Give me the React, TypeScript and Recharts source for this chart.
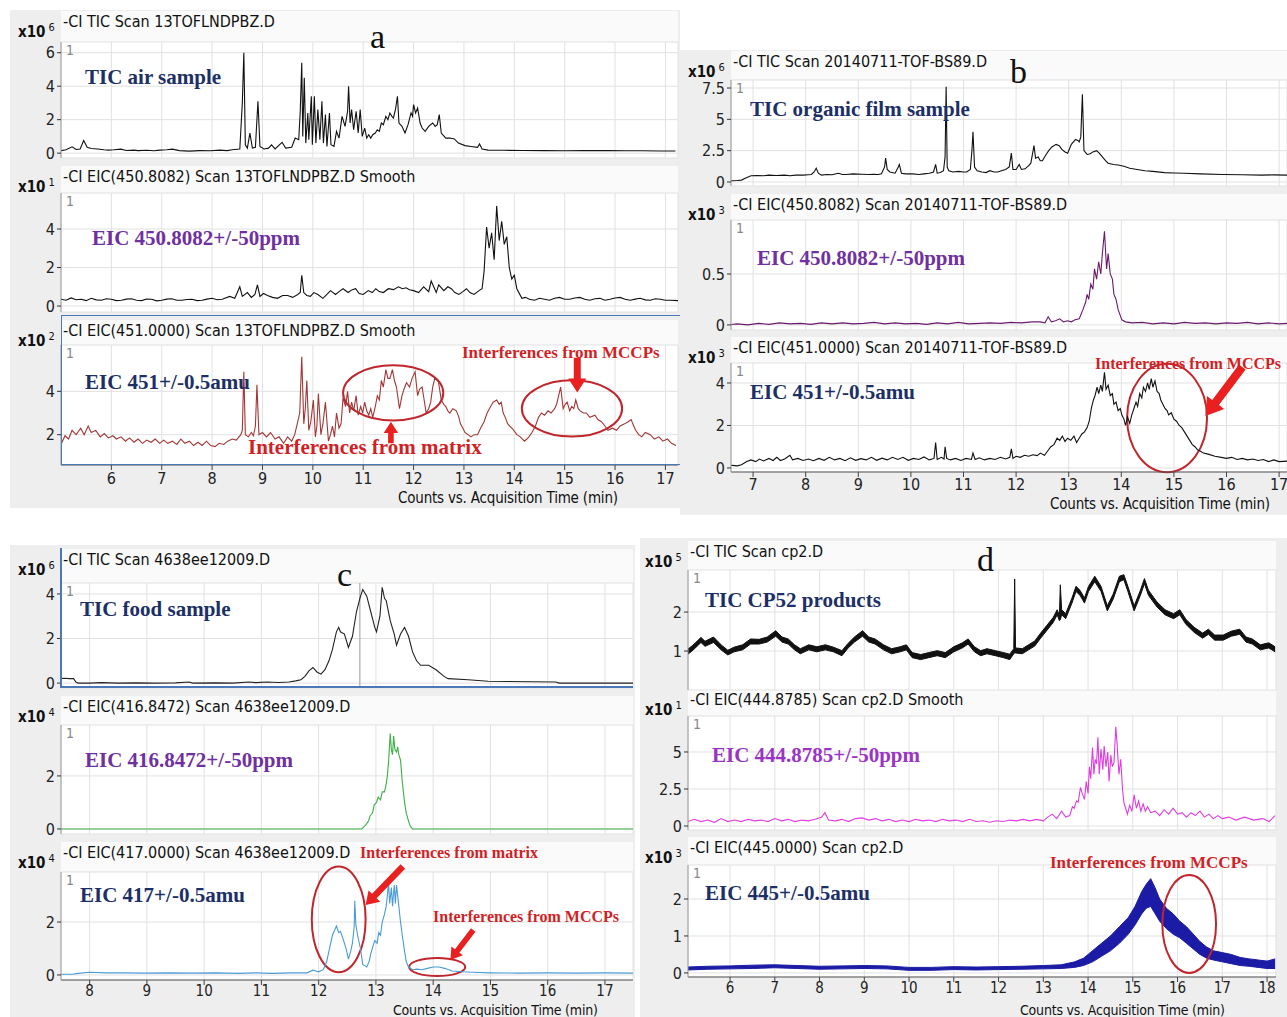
import React from 'react'
import {
    ComposedChart,
    Line,
    Area,
    XAxis,
    YAxis,
    CartesianGrid,
    ReferenceArea,
    ReferenceLine,
} from 'recharts'

const NARROW = "'Liberation Sans Narrow', 'Arial Narrow', 'DejaVu Sans Condensed', sans-serif"
const SERIF = "'Liberation Serif', 'Times New Roman', serif"
const NAVY = '#1c2f66'
const PURPLE = '#7030a0'
const RED = '#ea1f1f'
const RED_TEXT = '#d21f26'
const RING = '#c0262c'

// x ticks (min) for each panel
const A_TICKS = [6, 7, 8, 9, 10, 11, 12, 13, 14, 15, 16, 17]
const B_TICKS = [7, 8, 9, 10, 11, 12, 13, 14, 15, 16, 17]
const C_TICKS = [8, 9, 10, 11, 12, 13, 14, 15, 16, 17]
const D_TICKS = [6, 7, 8, 9, 10, 11, 12, 13, 14, 15, 16, 17, 18]

// panel a - air sample  [time, counts]
const A_TIC = [
    [5.0, 0.15], [5.1, 0.2], [5.22, 0.38], [5.3, 0.22], [5.38, 0.25], [5.45, 0.75], [5.52, 0.35], [5.6, 0.28],
    [5.73, 0.25], [5.85, 0.2], [5.94, 0.18], [6.05, 0.2], [6.19, 0.24], [6.3, 0.16], [6.45, 0.18], [6.53, 0.15],
    [6.7, 0.17], [6.85, 0.14], [6.96, 0.18], [7.1, 0.2], [7.21, 0.24], [7.35, 0.15], [7.55, 0.12], [7.75, 0.15],
    [7.97, 0.14], [8.15, 0.18], [8.3, 0.15], [8.4, 0.2], [8.55, 0.25], [8.6, 3.0], [8.63, 6.0], [8.66, 0.5],
    [8.7, 0.3], [8.75, 1.2], [8.8, 0.3], [8.86, 0.35], [8.91, 3.1], [8.95, 0.4], [9.03, 0.25], [9.12, 0.3],
    [9.18, 0.5], [9.25, 0.25], [9.39, 0.65], [9.46, 0.3], [9.58, 0.35], [9.65, 0.9], [9.72, 0.8], [9.75, 2.5],
    [9.78, 5.4], [9.8, 1.0], [9.83, 4.5], [9.86, 0.6], [9.9, 2.4], [9.92, 0.8], [9.97, 3.4], [9.99, 0.5],
    [10.03, 3.4], [10.06, 0.6], [10.1, 2.6], [10.14, 0.8], [10.18, 3.1], [10.21, 0.6], [10.25, 2.3], [10.28, 0.4],
    [10.33, 2.4], [10.36, 0.5], [10.42, 0.4], [10.47, 1.3], [10.52, 0.9], [10.58, 2.2], [10.64, 1.6], [10.69, 2.5],
    [10.71, 4.0], [10.74, 1.8], [10.77, 2.6], [10.81, 1.4], [10.86, 2.5], [10.9, 1.2], [10.94, 2.6], [10.98, 1.0],
    [11.03, 1.5], [11.07, 0.9], [11.11, 1.1], [11.15, 0.9], [11.19, 1.1], [11.24, 1.2], [11.28, 1.4], [11.32, 1.3],
    [11.36, 1.8], [11.4, 1.7], [11.45, 2.2], [11.49, 2.0], [11.53, 2.4], [11.57, 2.2], [11.6, 2.1], [11.64, 2.6],
    [11.68, 3.4], [11.71, 1.8], [11.77, 1.6], [11.83, 1.2], [11.89, 1.7], [11.95, 2.4], [11.98, 2.2], [12.0, 2.9],
    [12.04, 2.4], [12.08, 2.7], [12.13, 1.8], [12.17, 1.5], [12.23, 1.3], [12.3, 1.6], [12.38, 1.8], [12.43, 1.6],
    [12.47, 1.7], [12.51, 2.3], [12.55, 1.2], [12.64, 0.9], [12.72, 0.9], [12.81, 0.85], [12.89, 0.6], [13.02, 0.45],
    [13.14, 0.4], [13.27, 0.35], [13.31, 0.55], [13.36, 0.25], [13.48, 0.18], [13.8, 0.17], [14.16, 0.16], [14.6, 0.15],
    [15.0, 0.14], [15.4, 0.15], [15.86, 0.15], [16.2, 0.14], [16.53, 0.14], [16.9, 0.13], [17.2, 0.13],
]

const A_EIC450 = [
    [5.0, 0.35], [5.1, 0.3], [5.2, 0.42], [5.3, 0.33], [5.4, 0.35], [5.5, 0.28], [5.6, 0.4], [5.7, 0.32], [5.8, 0.3],
    [5.9, 0.38], [6.0, 0.35], [6.1, 0.28], [6.2, 0.3], [6.3, 0.36], [6.4, 0.38], [6.5, 0.3], [6.6, 0.28], [6.7, 0.36],
    [6.8, 0.35], [6.9, 0.27], [7.0, 0.3], [7.1, 0.36], [7.2, 0.38], [7.3, 0.3], [7.4, 0.3], [7.5, 0.34], [7.6, 0.35],
    [7.7, 0.28], [7.8, 0.3], [7.9, 0.36], [8.0, 0.4], [8.1, 0.33], [8.2, 0.35], [8.35, 0.5], [8.45, 0.4], [8.55, 1.0],
    [8.6, 0.5], [8.7, 0.7], [8.78, 0.45], [8.85, 0.6], [8.9, 1.1], [8.95, 0.5], [9.02, 0.65], [9.1, 0.55], [9.2, 0.45],
    [9.3, 0.4], [9.4, 0.55], [9.5, 0.55], [9.6, 0.45], [9.7, 0.6], [9.75, 0.7], [9.78, 1.6], [9.82, 0.7], [9.88, 0.55],
    [9.95, 0.5], [10.02, 0.7], [10.1, 0.6], [10.2, 0.4], [10.28, 0.6], [10.35, 0.8], [10.45, 0.6], [10.52, 0.75],
    [10.6, 0.9], [10.7, 0.7], [10.78, 0.85], [10.85, 0.9], [10.92, 0.65], [11.0, 0.6], [11.1, 0.8], [11.18, 0.7],
    [11.25, 0.9], [11.32, 0.75], [11.4, 0.7], [11.5, 0.9], [11.6, 0.85], [11.7, 1.0], [11.78, 0.9], [11.85, 0.95],
    [11.92, 0.85], [12.0, 0.8], [12.1, 0.7], [12.2, 1.0], [12.3, 0.75], [12.35, 1.3], [12.45, 0.7], [12.5, 1.1],
    [12.6, 0.8], [12.68, 1.0], [12.75, 0.9], [12.82, 0.7], [12.9, 0.6], [12.98, 0.75], [13.05, 0.9], [13.12, 0.7],
    [13.2, 0.6], [13.3, 0.8], [13.36, 0.9], [13.4, 1.8], [13.45, 4.1], [13.5, 3.0], [13.55, 3.8], [13.6, 2.4],
    [13.65, 5.2], [13.7, 3.4], [13.75, 4.4], [13.8, 3.2], [13.85, 3.6], [13.9, 2.0], [13.95, 1.4], [14.0, 1.6],
    [14.05, 0.9], [14.15, 0.4], [14.22, 0.45], [14.3, 0.35], [14.4, 0.3], [14.5, 0.4], [14.6, 0.35], [14.7, 0.3],
    [14.8, 0.4], [14.9, 0.45], [15.0, 0.35], [15.1, 0.35], [15.2, 0.42], [15.3, 0.45], [15.4, 0.35], [15.5, 0.3],
    [15.6, 0.38], [15.7, 0.4], [15.8, 0.3], [15.9, 0.35], [16.0, 0.42], [16.1, 0.45], [16.2, 0.35], [16.3, 0.3],
    [16.4, 0.36], [16.5, 0.4], [16.6, 0.32], [16.7, 0.3], [16.8, 0.38], [16.9, 0.35], [17.0, 0.3], [17.1, 0.3],
    [17.25, 0.28],
]

const A_EIC451 = [
    [5.01, 1.6], [5.08, 1.95], [5.15, 1.8], [5.22, 2.2], [5.3, 2.0], [5.39, 2.3], [5.46, 2.0], [5.54, 2.4], [5.6, 2.1],
    [5.69, 2.2], [5.78, 1.9], [5.86, 2.05], [5.94, 1.85], [6.03, 1.95], [6.1, 1.8], [6.19, 1.9], [6.28, 1.7],
    [6.36, 1.85], [6.45, 1.65], [6.53, 1.8], [6.62, 1.6], [6.7, 1.75], [6.79, 1.65], [6.87, 1.8], [6.96, 1.6],
    [7.04, 1.75], [7.12, 1.6], [7.21, 1.7], [7.3, 1.55], [7.38, 1.8], [7.46, 1.6], [7.55, 1.7], [7.63, 1.5],
    [7.72, 1.65], [7.8, 1.5], [7.89, 1.7], [7.97, 1.5], [8.06, 1.45], [8.14, 1.6], [8.23, 1.55], [8.31, 1.7],
    [8.4, 1.8], [8.48, 1.75], [8.57, 2.0], [8.6, 2.2], [8.63, 4.9], [8.66, 2.0], [8.72, 1.9], [8.78, 2.1],
    [8.82, 1.95], [8.86, 2.4], [8.89, 4.3], [8.93, 2.0], [9.0, 2.1], [9.08, 1.9], [9.16, 2.1], [9.25, 1.8],
    [9.33, 1.9], [9.42, 1.6], [9.5, 1.9], [9.58, 1.7], [9.64, 2.0], [9.69, 2.5], [9.74, 3.0], [9.78, 5.6],
    [9.82, 2.5], [9.85, 3.2], [9.88, 4.5], [9.92, 2.2], [9.96, 2.6], [10.01, 3.6], [10.05, 1.9], [10.08, 2.4],
    [10.11, 3.9], [10.16, 2.0], [10.2, 2.5], [10.25, 3.5], [10.31, 1.7], [10.35, 2.0], [10.39, 2.4], [10.43, 1.9],
    [10.47, 3.0], [10.52, 2.3], [10.56, 2.5], [10.6, 3.7], [10.65, 3.3], [10.69, 4.0], [10.73, 3.0], [10.77, 3.5],
    [10.81, 3.1], [10.86, 3.8], [10.9, 2.9], [10.95, 3.3], [10.99, 3.0], [11.03, 3.5], [11.07, 3.1], [11.11, 2.9],
    [11.15, 3.2], [11.19, 2.8], [11.24, 3.3], [11.28, 3.8], [11.32, 3.6], [11.36, 4.5], [11.4, 4.2], [11.45, 5.0],
    [11.49, 4.6], [11.53, 4.6], [11.58, 5.0], [11.62, 4.5], [11.66, 4.2], [11.72, 3.2], [11.77, 3.8], [11.81, 4.1],
    [11.86, 4.4], [11.92, 4.2], [11.97, 4.6], [12.03, 4.9], [12.08, 3.8], [12.12, 4.1], [12.17, 4.2], [12.21, 3.6],
    [12.25, 3.0], [12.3, 3.2], [12.34, 3.5], [12.38, 4.2], [12.42, 4.6], [12.49, 4.5], [12.55, 3.6], [12.6, 3.4],
    [12.64, 3.3], [12.68, 3.1], [12.72, 3.0], [12.78, 3.2], [12.85, 3.1], [12.9, 2.8], [12.93, 2.5], [12.98, 2.3],
    [13.02, 2.1], [13.08, 2.0], [13.14, 1.9], [13.2, 2.0], [13.27, 2.0], [13.33, 2.3], [13.4, 2.6], [13.46, 3.0],
    [13.53, 3.3], [13.58, 3.5], [13.65, 3.6], [13.7, 3.4], [13.74, 3.5], [13.78, 3.0], [13.82, 2.8], [13.87, 2.5],
    [13.91, 2.4], [13.95, 2.3], [13.99, 2.2], [14.05, 2.0], [14.12, 1.9], [14.2, 1.7], [14.25, 1.8], [14.29, 1.9],
    [14.35, 2.1], [14.42, 2.4], [14.48, 2.8], [14.54, 3.0], [14.6, 2.9], [14.67, 3.1], [14.73, 3.0], [14.8, 3.2],
    [14.84, 3.4], [14.88, 3.8], [14.92, 4.2], [14.97, 3.2], [15.01, 3.4], [15.05, 3.5], [15.1, 3.1], [15.14, 3.3],
    [15.18, 3.2], [15.22, 3.6], [15.27, 3.2], [15.31, 3.1], [15.37, 3.0], [15.43, 3.0], [15.5, 2.8], [15.6, 2.9],
    [15.66, 2.7], [15.73, 2.6], [15.8, 2.4], [15.86, 2.2], [15.95, 2.3], [16.03, 2.2], [16.1, 2.4], [16.19, 2.5],
    [16.26, 2.6], [16.32, 2.7], [16.37, 2.4], [16.41, 2.2], [16.47, 2.0], [16.53, 1.9], [16.6, 2.1], [16.7, 2.0],
    [16.78, 1.8], [16.87, 1.9], [16.95, 1.7], [17.04, 1.8], [17.12, 1.6], [17.21, 1.5],
]

// panel b - organic film sample
const B_TIC = [
    [6.48, 0.1], [6.6, 0.1], [6.7, 0.12], [6.78, 0.15], [6.85, 0.3], [6.96, 0.5], [7.07, 0.52], [7.2, 0.5],
    [7.3, 0.55], [7.44, 0.52], [7.6, 0.55], [7.7, 0.5], [7.81, 0.55], [7.95, 0.55], [8.05, 0.58], [8.11, 0.6],
    [8.16, 0.8], [8.2, 1.1], [8.24, 0.7], [8.3, 0.55], [8.4, 0.6], [8.5, 0.58], [8.62, 0.7], [8.7, 0.6], [8.77, 0.6],
    [8.9, 0.65], [9.07, 0.62], [9.2, 0.6], [9.29, 0.62], [9.38, 0.6], [9.44, 0.65], [9.5, 1.2], [9.52, 1.9],
    [9.55, 1.0], [9.6, 0.8], [9.7, 0.7], [9.76, 1.2], [9.78, 1.4], [9.82, 0.7], [9.9, 0.65], [10.03, 0.65],
    [10.15, 0.6], [10.25, 0.65], [10.35, 0.7], [10.43, 0.8], [10.47, 1.4], [10.5, 0.7], [10.56, 0.75], [10.62, 0.9],
    [10.65, 2.0], [10.67, 7.6], [10.69, 1.2], [10.72, 0.9], [10.8, 0.8], [10.91, 0.85], [11.0, 0.8], [11.06, 0.8],
    [11.13, 1.0], [11.16, 2.5], [11.18, 4.0], [11.21, 1.2], [11.26, 0.9], [11.35, 0.8], [11.43, 0.75], [11.5, 0.9],
    [11.58, 0.8], [11.65, 0.8], [11.72, 0.9], [11.8, 1.0], [11.87, 1.2], [11.91, 2.3], [11.94, 1.0], [12.0, 1.0],
    [12.06, 1.4], [12.1, 1.0], [12.17, 1.05], [12.24, 1.3], [12.28, 1.5], [12.31, 2.2], [12.34, 2.9], [12.37, 1.9],
    [12.42, 2.0], [12.46, 1.7], [12.5, 1.7], [12.57, 2.2], [12.62, 2.5], [12.68, 2.8], [12.76, 3.0], [12.82, 2.9],
    [12.87, 2.6], [12.93, 2.4], [12.98, 2.3], [13.05, 3.0], [13.13, 3.4], [13.18, 3.3], [13.2, 3.2], [13.23, 3.6],
    [13.26, 7.0], [13.29, 2.5], [13.35, 2.2], [13.41, 2.25], [13.46, 2.4], [13.53, 2.5], [13.58, 2.3], [13.64, 2.0],
    [13.7, 1.7], [13.75, 1.5], [13.85, 1.4], [13.94, 1.35], [14.05, 1.25], [14.16, 1.1], [14.3, 1.0], [14.45, 0.9],
    [14.6, 0.85], [14.82, 0.75], [15.0, 0.72], [15.19, 0.7], [15.5, 0.65], [15.93, 0.6], [16.3, 0.58], [16.67, 0.55],
    [16.9, 0.57], [17.15, 0.55],
]

const B_EIC450 = [
    [6.5, 0.0], [6.7, 0.01], [6.9, 0.0], [7.1, 0.015], [7.3, 0.005], [7.5, 0.02], [7.7, 0.01], [7.9, 0.015],
    [8.1, 0.005], [8.3, 0.02], [8.5, 0.01], [8.7, 0.02], [8.9, 0.01], [9.1, 0.015], [9.3, 0.025], [9.5, 0.01],
    [9.7, 0.02], [9.9, 0.01], [10.1, 0.015], [10.3, 0.005], [10.5, 0.02], [10.7, 0.01], [10.9, 0.025], [11.1, 0.01],
    [11.3, 0.015], [11.5, 0.02], [11.7, 0.015], [11.9, 0.025], [12.1, 0.02], [12.3, 0.03], [12.46, 0.03],
    [12.55, 0.02], [12.61, 0.08], [12.67, 0.03], [12.75, 0.04], [12.83, 0.06], [12.9, 0.03], [12.98, 0.04],
    [13.05, 0.03], [13.12, 0.05], [13.2, 0.06], [13.27, 0.15], [13.32, 0.22], [13.35, 0.3], [13.38, 0.25],
    [13.42, 0.4], [13.46, 0.35], [13.49, 0.55], [13.53, 0.45], [13.57, 0.62], [13.61, 0.5], [13.64, 0.7],
    [13.68, 0.92], [13.72, 0.55], [13.75, 0.7], [13.79, 0.5], [13.83, 0.45], [13.86, 0.3], [13.9, 0.25],
    [13.94, 0.15], [14.01, 0.05], [14.08, 0.03], [14.2, 0.02], [14.4, 0.025], [14.6, 0.01], [14.8, 0.02],
    [15.0, 0.01], [15.2, 0.025], [15.4, 0.015], [15.6, 0.02], [15.8, 0.01], [16.0, 0.02], [16.2, 0.015],
    [16.4, 0.025], [16.6, 0.01], [16.8, 0.02], [17.0, 0.01], [17.15, 0.015],
]

const B_EIC451 = [
    [6.48, 0.1], [6.6, 0.12], [6.7, 0.1], [6.78, 0.15], [6.88, 0.3], [6.96, 0.38], [7.05, 0.3], [7.12, 0.42],
    [7.2, 0.33], [7.3, 0.45], [7.38, 0.35], [7.45, 0.5], [7.52, 0.35], [7.6, 0.42], [7.7, 0.6], [7.75, 0.38],
    [7.85, 0.45], [7.95, 0.35], [8.05, 0.42], [8.15, 0.34], [8.25, 0.45], [8.35, 0.36], [8.45, 0.5], [8.55, 0.38],
    [8.65, 0.45], [8.75, 0.34], [8.85, 0.48], [8.95, 0.36], [9.05, 0.44], [9.15, 0.38], [9.25, 0.5], [9.35, 0.36],
    [9.45, 0.46], [9.55, 0.38], [9.65, 0.5], [9.75, 0.4], [9.85, 0.5], [9.95, 0.36], [10.05, 0.45], [10.15, 0.4],
    [10.25, 0.52], [10.35, 0.38], [10.44, 0.45], [10.47, 1.2], [10.5, 0.4], [10.58, 0.5], [10.63, 0.42],
    [10.65, 1.0], [10.68, 0.45], [10.75, 0.38], [10.85, 0.45], [10.95, 0.35], [11.05, 0.45], [11.15, 0.4],
    [11.18, 0.7], [11.22, 0.4], [11.3, 0.48], [11.4, 0.38], [11.5, 0.45], [11.6, 0.4], [11.7, 0.5], [11.8, 0.42],
    [11.88, 0.5], [11.91, 0.9], [11.94, 0.45], [12.0, 0.55], [12.08, 0.5], [12.16, 0.6], [12.24, 0.55],
    [12.32, 0.62], [12.4, 0.58], [12.46, 0.7], [12.54, 0.6], [12.6, 0.8], [12.66, 1.0], [12.72, 1.1], [12.78, 1.4],
    [12.83, 1.3], [12.88, 1.5], [12.93, 1.25], [12.98, 1.4], [13.04, 1.3], [13.1, 1.5], [13.15, 1.2], [13.2, 1.4],
    [13.25, 1.6], [13.3, 1.7], [13.35, 1.9], [13.39, 2.2], [13.43, 2.8], [13.47, 3.2], [13.5, 3.4], [13.54, 3.8],
    [13.57, 3.5], [13.61, 3.9], [13.64, 3.6], [13.68, 4.5], [13.71, 3.7], [13.75, 3.9], [13.79, 3.4], [13.83, 3.5],
    [13.86, 3.0], [13.9, 3.1], [13.94, 2.7], [13.98, 2.8], [14.01, 2.5], [14.05, 2.3], [14.08, 2.0], [14.12, 2.4],
    [14.16, 2.1], [14.2, 2.5], [14.24, 2.8], [14.28, 3.1], [14.31, 2.9], [14.35, 3.5], [14.39, 3.3], [14.42, 3.8],
    [14.46, 3.6], [14.5, 4.0], [14.53, 3.7], [14.57, 4.2], [14.6, 3.8], [14.64, 4.1], [14.68, 3.6], [14.72, 3.5],
    [14.75, 3.2], [14.79, 3.0], [14.83, 2.8], [14.87, 2.7], [14.9, 2.5], [14.95, 2.6], [15.0, 2.3], [15.05, 2.2],
    [15.1, 2.0], [15.15, 1.9], [15.2, 1.7], [15.25, 1.5], [15.3, 1.3], [15.35, 1.1], [15.4, 1.0], [15.45, 0.85],
    [15.5, 0.8], [15.56, 0.7], [15.65, 0.65], [15.78, 0.55], [15.9, 0.5], [16.0, 0.45], [16.1, 0.5], [16.2, 0.4],
    [16.3, 0.45], [16.4, 0.38], [16.5, 0.42], [16.6, 0.35], [16.7, 0.4], [16.8, 0.3], [16.9, 0.38], [17.0, 0.3],
    [17.15, 0.32],
]

// panel c - food sample
const C_TIC = [
    [7.48, 0.2], [7.55, 0.22], [7.65, 0.2], [7.72, 0.2], [7.76, 0.05], [7.8, 0.0], [8.0, 0.0], [8.2, 0.02],
    [8.5, 0.0], [8.8, 0.01], [9.1, 0.0], [9.5, 0.01], [9.74, 0.05], [9.8, 0.0], [10.2, 0.01], [10.5, 0.0],
    [10.78, 0.05], [10.9, 0.02], [11.1, 0.05], [11.3, 0.03], [11.48, 0.05], [11.6, 0.1], [11.69, 0.15],
    [11.76, 0.3], [11.83, 0.55], [11.9, 0.7], [11.97, 0.5], [12.04, 0.4], [12.11, 0.6], [12.18, 1.0], [12.24, 1.5],
    [12.31, 2.3], [12.35, 2.5], [12.38, 2.3], [12.45, 2.2], [12.52, 1.6], [12.59, 2.1], [12.66, 3.2], [12.72, 3.8],
    [12.77, 4.2], [12.84, 3.9], [12.91, 3.2], [12.98, 2.5], [13.01, 2.3], [13.07, 3.0], [13.11, 4.3], [13.15, 3.8],
    [13.18, 3.7], [13.25, 2.8], [13.32, 2.2], [13.36, 1.7], [13.43, 2.2], [13.5, 2.5], [13.57, 2.1], [13.64, 1.4],
    [13.71, 1.0], [13.78, 0.8], [13.85, 0.8], [13.92, 0.8], [14.05, 0.6], [14.19, 0.3], [14.26, 0.2], [14.61, 0.15],
    [14.96, 0.08], [15.31, 0.07], [16.14, 0.05], [16.2, 0.0], [17.49, 0.0],
]

const C_EIC416 = [
    [7.5, 0.0], [12.75, 0.0], [12.8, 0.1], [12.84, 0.2], [12.87, 0.3], [12.9, 0.5], [12.94, 0.6], [12.97, 0.9],
    [13.01, 1.0], [13.04, 1.2], [13.08, 1.1], [13.11, 1.4], [13.15, 1.4], [13.18, 1.7], [13.2, 2.0], [13.22, 2.5],
    [13.25, 3.6], [13.27, 3.0], [13.29, 2.8], [13.31, 3.5], [13.33, 3.0], [13.36, 2.9], [13.38, 3.1], [13.4, 2.8],
    [13.43, 2.6], [13.46, 1.8], [13.5, 1.0], [13.53, 0.6], [13.57, 0.3], [13.6, 0.1], [13.64, 0.0], [17.49, 0.0],
]

const C_EIC417 = [
    [7.5, 0.03], [7.7, 0.03], [7.8, 0.06], [8.0, 0.1], [8.3, 0.08], [8.6, 0.08], [9.0, 0.07], [9.4, 0.08],
    [9.8, 0.07], [10.2, 0.08], [10.6, 0.06], [10.9, 0.08], [11.2, 0.06], [11.5, 0.08], [11.8, 0.08], [11.9, 0.18],
    [11.95, 0.15], [12.0, 0.12], [12.08, 0.2], [12.14, 0.5], [12.18, 0.9], [12.24, 1.5], [12.28, 1.7], [12.31, 1.85],
    [12.35, 1.6], [12.38, 1.65], [12.42, 1.4], [12.45, 1.2], [12.49, 0.9], [12.52, 0.6], [12.56, 0.9], [12.59, 1.2],
    [12.62, 1.8], [12.63, 2.8], [12.65, 1.9], [12.68, 1.5], [12.73, 1.0], [12.77, 0.4], [12.84, 0.3], [12.88, 0.5],
    [12.91, 0.8], [12.95, 1.1], [12.98, 1.3], [13.02, 1.2], [13.05, 1.6], [13.08, 1.5], [13.11, 2.0], [13.15, 2.3],
    [13.18, 2.6], [13.2, 3.0], [13.22, 3.5], [13.24, 2.7], [13.27, 3.3], [13.29, 2.6], [13.32, 3.4], [13.34, 2.7],
    [13.36, 3.4], [13.39, 2.8], [13.43, 2.0], [13.46, 1.5], [13.5, 0.9], [13.53, 0.5], [13.57, 0.3], [13.64, 0.2],
    [13.72, 0.22], [13.8, 0.2], [13.9, 0.25], [14.0, 0.3], [14.1, 0.3], [14.2, 0.25], [14.33, 0.15], [14.5, 0.12],
    [14.7, 0.1], [15.0, 0.08], [15.5, 0.07], [16.0, 0.08], [16.5, 0.07], [17.0, 0.08], [17.49, 0.07],
]

// panel d - CP52 products; noisy traces as [time, low, high] envelopes
const D_TIC = [
    [5.06, 0.92, 1.05], [5.17, 1.02, 1.15], [5.35, 1.22, 1.35], [5.44, 1.12, 1.25], [5.63, 1.22, 1.36],
    [5.81, 1.02, 1.15], [5.95, 0.9, 1.02], [6.09, 0.98, 1.1], [6.28, 1.03, 1.16], [6.46, 1.18, 1.31],
    [6.65, 1.18, 1.3], [6.83, 1.23, 1.36], [7.02, 1.38, 1.52], [7.16, 1.23, 1.36], [7.3, 1.18, 1.31],
    [7.44, 1.03, 1.16], [7.57, 0.93, 1.06], [7.76, 1.03, 1.16], [7.94, 0.98, 1.11], [8.13, 1.03, 1.16],
    [8.31, 0.98, 1.1], [8.5, 0.88, 1.01], [8.64, 1.08, 1.2], [8.78, 1.23, 1.36], [8.96, 1.38, 1.52],
    [9.1, 1.23, 1.36], [9.24, 1.18, 1.31], [9.43, 1.03, 1.16], [9.61, 0.93, 1.06], [9.8, 0.98, 1.11],
    [9.94, 1.03, 1.16], [10.07, 0.83, 0.96], [10.26, 0.78, 0.91], [10.44, 0.83, 0.96], [10.63, 0.88, 1.01],
    [10.81, 0.83, 0.96], [11.0, 0.98, 1.11], [11.19, 1.08, 1.21], [11.32, 1.18, 1.31], [11.46, 0.98, 1.11],
    [11.6, 0.88, 1.01], [11.74, 0.93, 1.06], [11.93, 0.88, 1.01], [12.11, 0.83, 0.96], [12.25, 0.78, 0.92],
    [12.34, 0.93, 1.06], [12.36, 0.95, 2.85], [12.38, 0.95, 1.08], [12.53, 0.93, 1.06], [12.67, 1.03, 1.16],
    [12.81, 1.13, 1.26], [12.94, 1.33, 1.46], [13.08, 1.53, 1.66], [13.22, 1.73, 1.86], [13.31, 1.93, 2.06],
    [13.36, 1.78, 1.91], [13.38, 1.8, 2.7], [13.41, 1.93, 2.06], [13.5, 1.83, 1.96], [13.64, 2.23, 2.36],
    [13.73, 2.53, 2.66], [13.82, 2.43, 2.56], [13.92, 2.23, 2.36], [14.01, 2.53, 2.66], [14.15, 2.78, 2.92],
    [14.29, 2.53, 2.66], [14.43, 2.03, 2.16], [14.56, 2.33, 2.46], [14.7, 2.78, 2.92], [14.8, 2.83, 2.96],
    [14.89, 2.53, 2.66], [15.03, 2.03, 2.16], [15.17, 2.43, 2.56], [15.26, 2.73, 2.86], [15.35, 2.43, 2.56],
    [15.54, 2.13, 2.26], [15.72, 1.93, 2.06], [15.91, 1.83, 1.96], [16.05, 1.93, 2.06], [16.19, 1.68, 1.81],
    [16.37, 1.48, 1.61], [16.56, 1.33, 1.46], [16.69, 1.43, 1.56], [16.83, 1.28, 1.41], [17.02, 1.28, 1.41],
    [17.2, 1.38, 1.51], [17.39, 1.43, 1.56], [17.53, 1.23, 1.36], [17.67, 1.18, 1.31], [17.85, 1.03, 1.16],
    [18.04, 1.08, 1.21], [18.18, 0.98, 1.11],
]

const D_EIC444 = [
    [5.06, 0.3], [5.2, 0.45], [5.35, 0.3], [5.5, 0.4], [5.65, 0.25], [5.8, 0.5], [5.95, 0.3], [6.1, 0.4], [6.25, 0.3],
    [6.4, 0.45], [6.55, 0.35], [6.7, 0.4], [6.85, 0.3], [7.0, 0.5], [7.15, 0.35], [7.3, 0.45], [7.45, 0.3], [7.6, 0.4],
    [7.75, 0.35], [7.9, 0.45], [8.05, 0.6], [8.12, 0.9], [8.2, 0.4], [8.35, 0.35], [8.5, 0.45], [8.65, 0.3],
    [8.8, 0.5], [8.95, 0.55], [9.1, 0.4], [9.25, 0.5], [9.4, 0.35], [9.55, 0.45], [9.7, 0.3], [9.85, 0.4],
    [10.0, 0.3], [10.15, 0.45], [10.3, 0.35], [10.45, 0.4], [10.6, 0.3], [10.75, 0.45], [10.9, 0.35], [11.05, 0.4],
    [11.2, 0.3], [11.35, 0.45], [11.5, 0.3], [11.65, 0.35], [11.8, 0.25], [11.95, 0.35], [12.1, 0.3], [12.25, 0.4],
    [12.4, 0.35], [12.55, 0.45], [12.7, 0.35], [12.85, 0.45], [13.0, 0.35], [13.1, 0.6], [13.2, 0.8], [13.3, 0.5],
    [13.41, 1.0], [13.5, 0.6], [13.59, 0.7], [13.65, 1.3], [13.69, 1.2], [13.74, 1.7], [13.78, 1.6], [13.83, 2.6],
    [13.87, 2.2], [13.92, 1.8], [13.96, 3.0], [14.0, 2.2], [14.03, 4.0], [14.06, 3.2], [14.1, 5.3], [14.13, 3.5],
    [14.16, 4.5], [14.19, 4.2], [14.22, 6.0], [14.25, 3.5], [14.29, 5.2], [14.33, 3.8], [14.36, 5.4], [14.4, 4.0],
    [14.44, 5.0], [14.47, 3.0], [14.51, 4.8], [14.54, 4.0], [14.58, 4.3], [14.62, 6.7], [14.65, 5.5], [14.69, 3.5],
    [14.73, 4.5], [14.77, 2.5], [14.8, 1.6], [14.84, 1.2], [14.88, 0.8], [14.93, 1.4], [14.98, 1.0], [15.03, 2.1],
    [15.08, 1.2], [15.13, 1.7], [15.18, 1.0], [15.23, 1.5], [15.28, 1.0], [15.33, 1.3], [15.4, 0.9], [15.5, 1.0],
    [15.6, 0.7], [15.7, 1.1], [15.8, 0.8], [15.9, 1.2], [16.0, 0.8], [16.1, 0.9], [16.2, 0.6], [16.3, 0.9],
    [16.4, 0.7], [16.5, 1.0], [16.6, 0.6], [16.7, 0.8], [16.8, 0.5], [16.9, 0.7], [17.0, 0.5], [17.15, 0.6],
    [17.3, 0.4], [17.5, 0.6], [17.7, 0.4], [17.9, 0.5], [18.05, 0.3], [18.18, 0.7],
]

const D_EIC445 = [
    [5.06, 0.08, 0.16], [5.5, 0.1, 0.18], [6.0, 0.11, 0.19], [6.5, 0.12, 0.21], [7.0, 0.14, 0.22], [7.5, 0.12, 0.2],
    [8.0, 0.1, 0.18], [8.5, 0.11, 0.19], [9.0, 0.12, 0.2], [9.5, 0.11, 0.19], [10.0, 0.07, 0.15], [10.5, 0.07, 0.15],
    [11.0, 0.09, 0.17], [11.5, 0.08, 0.16], [12.0, 0.09, 0.17], [12.5, 0.1, 0.18], [13.0, 0.11, 0.2],
    [13.4, 0.12, 0.22], [13.7, 0.15, 0.3], [13.9, 0.2, 0.4], [14.1, 0.3, 0.6], [14.3, 0.45, 0.8], [14.5, 0.6, 1.0],
    [14.7, 0.8, 1.25], [14.9, 1.05, 1.5], [15.05, 1.3, 1.8], [15.2, 1.6, 2.2], [15.3, 1.75, 2.4], [15.4, 1.8, 2.55],
    [15.5, 1.6, 2.3], [15.6, 1.4, 2.0], [15.75, 1.2, 1.75], [15.9, 1.05, 1.6], [16.05, 0.95, 1.4], [16.2, 0.8, 1.25],
    [16.35, 0.65, 1.05], [16.5, 0.5, 0.85], [16.65, 0.4, 0.7], [16.8, 0.35, 0.6], [17.0, 0.3, 0.55],
    [17.2, 0.25, 0.5], [17.4, 0.2, 0.42], [17.6, 0.18, 0.38], [17.8, 0.15, 0.35], [18.0, 0.12, 0.32],
    [18.18, 0.12, 0.38],
]

// annotation rings [t1, t2, y1, y2] and arrows [tFrom, yFrom, tTo, yTo, size]
const A3_RINGS = [[10.6, 12.59, 2.65, 5.21], [14.15, 16.14, 1.91, 4.51]]
const A3_ARROWS = [[15.25, 5.55, 15.25, 3.95, 1], [11.55, 1.6, 11.55, 2.6, 0.8]]
const B3_RINGS = [[14.11, 15.63, -0.2, 4.9]]
const B3_ARROWS = [[16.3, 4.75, 15.6, 2.45, 1.2]]
const C3_RINGS = [[11.88, 12.82, 0.1, 4.1], [13.58, 14.56, -0.04, 0.64]]
const C3_ARROWS = [[13.47, 4.1, 12.82, 2.64, 0.9], [14.7, 1.7, 14.3, 0.57, 0.8]]
const D3_RINGS = [[15.66, 16.86, 0.0, 2.65]]

const pts = (a: number[][]) => a.map(([t, v]) => ({ t, v }))
const bands = (a: number[][]) => a.map(([t, lo, hi]) => ({ t, band: [lo, hi] }))

const ringShape = (p: any) => (
    <ellipse
        cx={p.x + p.width / 2}
        cy={p.y + p.height / 2}
        rx={Math.abs(p.width) / 2}
        ry={Math.abs(p.height) / 2}
        fill="none"
        stroke={RING}
        strokeWidth={2}
    />
)

const arrowShape = (size: number) => (p: any) => {
    const { x1, y1, x2, y2 } = p
    const dx = x2 - x1
    const dy = y2 - y1
    const len = Math.hypot(dx, dy) || 1
    const ux = dx / len
    const uy = dy / len
    const nx = -uy
    const ny = ux
    const hl = 14 * size
    const hw = 9 * size
    const sw = 3.5 * size
    const bx = x2 - ux * hl
    const by = y2 - uy * hl
    const poly = [
        [x1 + nx * sw, y1 + ny * sw],
        [bx + nx * sw, by + ny * sw],
        [bx + nx * hw, by + ny * hw],
        [x2, y2],
        [bx - nx * hw, by - ny * hw],
        [bx - nx * sw, by - ny * sw],
        [x1 - nx * sw, y1 - ny * sw],
    ]
    return <polygon points={poly.map((q) => q.join(',')).join(' ')} fill={RED} />
}

const YW = 40
const PAD = 24
const AXIS_H = 34

interface SubProps {
    left: number
    right: number
    top: number
    bottom: number
    xDomain: number[]
    xTicks: number[]
    yDomain: number[]
    yTicks: number[]
    rows: any[]
    color: string
    band?: boolean
    axis?: boolean
    gap?: number
    xFont?: number
    rings?: number[][]
    arrows?: number[][]
    cursor?: number
}

function Sub(p: SubProps) {
    const w = p.right - p.left + YW
    const h = p.bottom - p.top + PAD + (p.axis ? AXIS_H : 0)
    const tickStyle = { fontSize: 16, fill: '#222', fontFamily: NARROW }
    return (
        <div style={{ position: 'absolute', left: p.left - YW, top: p.top - PAD }}>
            <ComposedChart width={w} height={h} data={p.rows} margin={{ top: PAD, right: 0, bottom: 0, left: 0 }}>
                <CartesianGrid stroke="#e1e1e1" fill="#fff" />
                <XAxis
                    type="number"
                    dataKey="t"
                    domain={p.xDomain}
                    ticks={p.xTicks}
                    allowDataOverflow
                    interval={0}
                    hide={!p.axis}
                    height={AXIS_H}
                    tickSize={5}
                    tickMargin={p.gap ?? 3}
                    tickLine={{ stroke: '#444' }}
                    axisLine={{ stroke: '#555' }}
                    tick={{ ...tickStyle, fontSize: p.xFont ?? 16 }}
                />
                <YAxis
                    type="number"
                    domain={p.yDomain}
                    ticks={p.yTicks}
                    allowDataOverflow
                    interval={0}
                    width={YW}
                    tickSize={4}
                    tickLine={{ stroke: '#333' }}
                    axisLine={{ stroke: '#999' }}
                    tick={tickStyle}
                />
                {p.cursor !== undefined && (
                    <ReferenceLine x={p.cursor} stroke="#999" strokeWidth={1} />
                )}
                {p.band ? (
                    <Area
                        type="linear"
                        dataKey="band"
                        stroke={p.color}
                        strokeWidth={1}
                        fill={p.color}
                        fillOpacity={1}
                        dot={false}
                        activeDot={false}
                        isAnimationActive={false}
                    />
                ) : (
                    <Line
                        type="linear"
                        dataKey="v"
                        stroke={p.color}
                        strokeWidth={1.1}
                        dot={false}
                        activeDot={false}
                        isAnimationActive={false}
                    />
                )}
                {(p.rings || []).map((r, i) => (
                    <ReferenceArea key={`r${i}`} x1={r[0]} x2={r[1]} y1={r[2]} y2={r[3]} ifOverflow="visible" shape={ringShape} />
                ))}
                {(p.arrows || []).map((a, i) => (
                    <ReferenceLine
                        key={`a${i}`}
                        segment={[{ x: a[0], y: a[1] }, { x: a[2], y: a[3] }]}
                        ifOverflow="visible"
                        shape={arrowShape(a[4])}
                    />
                ))}
            </ComposedChart>
        </div>
    )
}

const A_X = [5.0, 17.25]
const B_X = [6.58, 17.15]
const C_X = [7.5, 17.49]
const D_X = [5.06, 18.2]

const SUBS: (SubProps & { header: string; hy: number; exp: string; label: string; lc: string; lx: number; ly: number })[] = [
    { left: 61, right: 678, top: 42, bottom: 158, xDomain: A_X, xTicks: A_TICKS, yDomain: [-0.29, 6.64], yTicks: [0, 2, 4, 6], rows: pts(A_TIC), color: '#111', header: '-CI TIC Scan 13TOFLNDPBZ.D', hy: 22, exp: '6', label: 'TIC air sample', lc: NAVY, lx: 85, ly: 77 },
    { left: 61, right: 678, top: 193, bottom: 312, xDomain: A_X, xTicks: A_TICKS, yDomain: [-0.31, 5.87], yTicks: [0, 2, 4], rows: pts(A_EIC450), color: '#111', header: '-CI EIC(450.8082) Scan 13TOFLNDPBZ.D Smooth', hy: 177, exp: '1', label: 'EIC 450.8082+/-50ppm', lc: PURPLE, lx: 92, ly: 238 },
    { left: 61, right: 678, top: 345, bottom: 465, xDomain: A_X, xTicks: A_TICKS, yDomain: [0.6, 6.14], yTicks: [2, 4], rows: pts(A_EIC451), color: '#a33636', axis: true, gap: 3, rings: A3_RINGS, arrows: A3_ARROWS, header: '-CI EIC(451.0000) Scan 13TOFLNDPBZ.D Smooth', hy: 331, exp: '2', label: 'EIC 451+/-0.5amu', lc: NAVY, lx: 85, ly: 382 },
    { left: 731, right: 1287, top: 80, bottom: 186, xDomain: B_X, xTicks: B_TICKS, yDomain: [-0.32, 8.14], yTicks: [0, 2.5, 5, 7.5], rows: pts(B_TIC), color: '#111', header: '-CI TIC Scan 20140711-TOF-BS89.D', hy: 62, exp: '6', label: 'TIC organic film sample', lc: NAVY, lx: 750, ly: 109 },
    { left: 731, right: 1287, top: 220, bottom: 330, xDomain: B_X, xTicks: B_TICKS, yDomain: [-0.05, 1.03], yTicks: [0, 0.5], rows: pts(B_EIC450), color: '#6a1a6e', header: '-CI EIC(450.8082) Scan 20140711-TOF-BS89.D', hy: 205, exp: '3', label: 'EIC 450.8082+/-50ppm', lc: PURPLE, lx: 757, ly: 258 },
    { left: 731, right: 1287, top: 363, bottom: 472, xDomain: B_X, xTicks: B_TICKS, yDomain: [-0.19, 4.94], yTicks: [0, 2, 4], rows: pts(B_EIC451), color: '#111', axis: true, gap: 2, rings: B3_RINGS, arrows: B3_ARROWS, header: '-CI EIC(451.0000) Scan 20140711-TOF-BS89.D', hy: 348, exp: '3', label: 'EIC 451+/-0.5amu', lc: NAVY, lx: 750, ly: 392 },
    { left: 61, right: 633, top: 583, bottom: 688, xDomain: C_X, xTicks: C_TICKS, yDomain: [-0.22, 4.49], yTicks: [0, 2, 4], rows: pts(C_TIC), color: '#222', cursor: 12.72, header: '-CI TIC Scan 4638ee12009.D', hy: 560, exp: '6', label: 'TIC food sample', lc: NAVY, lx: 80, ly: 609 },
    { left: 61, right: 633, top: 725, bottom: 834, xDomain: C_X, xTicks: C_TICKS, yDomain: [-0.19, 3.92], yTicks: [0, 2], rows: pts(C_EIC416), color: '#3bb043', header: '-CI EIC(416.8472) Scan 4638ee12009.D', hy: 707, exp: '4', label: 'EIC 416.8472+/-50ppm', lc: PURPLE, lx: 85, ly: 760 },
    { left: 61, right: 633, top: 872, bottom: 980, xDomain: C_X, xTicks: C_TICKS, yDomain: [-0.19, 3.89], yTicks: [0, 2], rows: pts(C_EIC417), color: '#4a9bd6', axis: true, gap: 0, xFont: 15, rings: C3_RINGS, arrows: C3_ARROWS, header: '-CI EIC(417.0000) Scan 4638ee12009.D', hy: 853, exp: '4', label: 'EIC 417+/-0.5amu', lc: NAVY, lx: 80, ly: 895 },
    { left: 688, right: 1276, top: 570, bottom: 690, xDomain: D_X, xTicks: D_TICKS, yDomain: [0.0, 3.08], yTicks: [1, 2], rows: bands(D_TIC), color: '#111', band: true, header: '-CI TIC Scan cp2.D', hy: 552, exp: '5', label: 'TIC CP52 products', lc: NAVY, lx: 705, ly: 600 },
    { left: 688, right: 1276, top: 716, bottom: 830, xDomain: D_X, xTicks: D_TICKS, yDomain: [-0.27, 7.43], yTicks: [0, 2.5, 5], rows: pts(D_EIC444), color: '#e03ce0', header: '-CI EIC(444.8785) Scan cp2.D Smooth', hy: 700, exp: '1', label: 'EIC 444.8785+/-50ppm', lc: '#9a34c4', lx: 712, ly: 755 },
    { left: 688, right: 1276, top: 865, bottom: 977, xDomain: D_X, xTicks: D_TICKS, yDomain: [-0.11, 2.92], yTicks: [0, 1, 2], rows: bands(D_EIC445), color: '#1b1ba6', band: true, axis: true, gap: 0, xFont: 15, rings: D3_RINGS, header: '-CI EIC(445.0000) Scan cp2.D', hy: 848, exp: '3', label: 'EIC 445+/-0.5amu', lc: NAVY, lx: 705, ly: 893 },
]

const PANELS = [
    { x: 10, y: 10, w: 670, h: 498, letter: 'a', lx: 378, ly: 37, tx: 398, ty: 498, ts: 15 },
    { x: 680, y: 50, w: 607, h: 465, letter: 'b', lx: 1018, ly: 72, tx: 1050, ty: 504, ts: 15 },
    { x: 10, y: 545, w: 625, h: 472, letter: 'c', lx: 345, ly: 575, tx: 393, ty: 1010, ts: 14 },
    { x: 640, y: 538, w: 647, h: 479, letter: 'd', lx: 985, ly: 560, tx: 1020, ty: 1010, ts: 14 },
]

const NOTES = [
    { text: 'Interferences from MCCPs', x: 462, y: 352, size: 17 },
    { text: 'Interferences from matrix', x: 248, y: 447, size: 21 },
    { text: 'Interferences from MCCPs', x: 1095, y: 364, size: 16 },
    { text: 'Interferences from matrix', x: 360, y: 853, size: 16 },
    { text: 'Interferences from MCCPs', x: 433, y: 917, size: 16 },
    { text: 'Interferences from MCCPs', x: 1050, y: 862, size: 17 },
]

function Txt({ x, y, children, style }: { x: number; y: number; children: React.ReactNode; style?: React.CSSProperties }) {
    return (
        <div style={{ position: 'absolute', left: x, top: y, transform: 'translateY(-50%)', whiteSpace: 'nowrap', lineHeight: 1, ...style }}>
            {children}
        </div>
    )
}

export default function App() {
    return (
        <div style={{ position: 'absolute', left: 0, top: 0, width: 1287, height: 1017, overflow: 'hidden', background: '#fff' }}>
            <style>{'.recharts-surface{overflow:visible}'}</style>
            {PANELS.map((p) => (
                <div key={p.letter} style={{ position: 'absolute', left: p.x, top: p.y, width: p.w, height: p.h, background: '#eeeeee' }} />
            ))}
            {SUBS.map((s, i) => (
                <div key={`bg${i}`} style={{ position: 'absolute', left: s.left, top: s.hy - 11, width: s.right - s.left, height: s.bottom - s.hy + 11, background: '#fafafa' }} />
            ))}
            {SUBS.map((s, i) => (
                <Sub key={`s${i}`} {...s} />
            ))}
            {SUBS.map((s, i) => (
                <React.Fragment key={`t${i}`}>
                    <Txt x={s.left + 2} y={s.hy} style={{ fontFamily: NARROW, fontSize: 16, color: '#111' }}>{s.header}</Txt>
                    <Txt x={s.left - 43} y={s.hy + 9} style={{ fontFamily: NARROW, fontSize: 15, fontWeight: 'bold', color: '#111' }}>
                        x10<sup style={{ fontSize: 11, fontWeight: 'normal', marginLeft: 3 }}>{s.exp}</sup>
                    </Txt>
                    <Txt x={s.left + 5} y={s.top + 8} style={{ fontFamily: NARROW, fontSize: 14, color: '#888' }}>1</Txt>
                    <Txt x={s.lx} y={s.ly} style={{ fontFamily: SERIF, fontSize: 21, fontWeight: 'bold', color: s.lc }}>{s.label}</Txt>
                </React.Fragment>
            ))}
            {PANELS.map((p) => (
                <React.Fragment key={`pl${p.letter}`}>
                    <Txt x={p.lx - 8} y={p.ly} style={{ fontFamily: SERIF, fontSize: 34, color: '#111' }}>{p.letter}</Txt>
                    <Txt x={p.tx} y={p.ty} style={{ fontFamily: NARROW, fontSize: p.ts, color: '#111', letterSpacing: -0.2 }}>Counts vs. Acquisition Time (min)</Txt>
                </React.Fragment>
            ))}
            {NOTES.map((n, i) => (
                <Txt key={`n${i}`} x={n.x} y={n.y} style={{ fontFamily: SERIF, fontSize: n.size, fontWeight: 'bold', color: RED_TEXT }}>{n.text}</Txt>
            ))}
            <div style={{ position: 'absolute', left: 61, top: 315, width: 619, height: 150, border: '1.5px solid #4a78b8', borderRight: 'none', boxSizing: 'border-box' }} />
            <div style={{ position: 'absolute', left: 60, top: 548, width: 573, height: 140, borderLeft: '2px solid #4a78b8', borderBottom: '2px solid #4a78b8', boxSizing: 'border-box' }} />
        </div>
    )
}
